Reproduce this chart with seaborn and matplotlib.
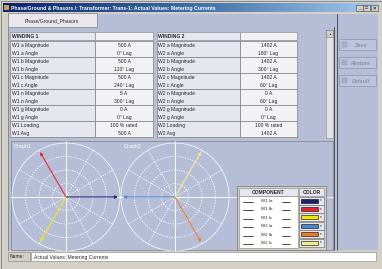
import matplotlib

matplotlib.use("Agg")

import matplotlib.pyplot as plt
import numpy as np
import seaborn as sns
from matplotlib.patches import Rectangle

# ---- data -----------------------------------------------------------------
title_text = "Phase/Ground & Phasors /: Transformer: Trans-1: Actual Values: Metering Currents"
tab_text = "Phase/Ground_Phasors"
status_label = "Name:"
status_text = "Actual Values: Metering Currents"
button_labels = ["Save", "Restore", "Default"]

w1_header = "WINDING 1"
w1_labels = ["W1 a Magnitude", "W1 a Angle", "W1 b Magnitude", "W1 b Angle",
             "W1 c Magnitude", "W1 c Angle", "W1 n Magnitude", "W1 n Angle",
             "W1 g Magnitude", "W1 g Angle", "W1 Loading", "W1 Avg"]
w1_values = ["500 A", "0° Lag", "500 A", "120° Lag", "500 A", "240° Lag",
             "5 A", "300° Lag", "0 A", "0° Lag", "100 % rated", "500 A"]

w2_header = "WINDING 2"
w2_labels = ["W2 a Magnitude", "W2 a Angle", "W2 b Magnitude", "W2 b Angle",
             "W2 c Magnitude", "W2 c Angle", "W2 n Magnitude", "W2 n Angle",
             "W2 g Magnitude", "W2 g Angle", "W2 Loading", "W2 Avg"]
w2_values = ["1402 A", "180° Lag", "1402 A", "300° Lag", "1402 A", "60° Lag",
             "0 A", "60° Lag", "0 A", "0° Lag", "100 % rated", "1402 A"]

component_names = ["W1 Ia", "W1 Ib", "W1 Ic", "W2 Ia", "W2 Ib", "W2 Ic"]
component_colors = ["#1c1f72", "#e8232b", "#f2e600", "#4a86c8", "#ea7a2c", "#f2ea84"]

graph_titles = ["Graph1", "Graph2"]
graph1_mag = [500, 500, 500]
graph1_ang = [0, 120, 240]
graph2_mag = [1402, 1402, 1402]
graph2_ang = [180, 300, 60]

# ---- style ----------------------------------------------------------------
sns.set_style("white")
plt.rcParams["font.family"] = ["Liberation Sans", "DejaVu Sans"]
palette = sns.color_palette(component_colors)

W, H = 382, 269
GRAY = "#d4d0c8"
PANEL = "#b6bed7"
FS = 3.6
VA = "center_baseline"

fig = plt.figure(figsize=(W / 100, H / 100), dpi=100)
fig.patch.set_facecolor(GRAY)
ax = fig.add_axes([0, 0, 1, 1])
ax.set_xlim(0, W)
ax.set_ylim(H, 0)
ax.axis("off")


def box(x0, y0, x1, y1, fc, ec="none", lw=0.5, z=1):
    ax.add_patch(Rectangle((x0, y0), x1 - x0, y1 - y0, facecolor=fc,
                           edgecolor=ec, linewidth=lw, zorder=z))


# window frame
box(0.5, 0.5, W - 0.5, H - 0.5, GRAY, "#808080", 0.6)

# title bar gradient
grad = np.linspace(0, 1, 256).reshape(1, -1)
ax.imshow(grad, extent=(3, 379, 12, 3), aspect="auto", zorder=2,
          cmap=matplotlib.colors.LinearSegmentedColormap.from_list(
              "tb", ["#0a246a", "#3a6ea5", "#a6caf0"]))
ax.text(11, 7.6, title_text, color="white", fontsize=3.7, fontweight="bold",
        va=VA, ha="left", zorder=3)
box(4, 4.5, 9, 10, "#c8a050", z=3)
for bx in [356, 363, 371]:
    box(bx, 4.5, bx + 7, 10.5, GRAY, "#404040", 0.4, z=3)
ax.text(359.5, 8, "_", fontsize=3.5, ha="center", va="center", zorder=4)
ax.text(366.5, 7.6, "□", fontsize=3.5, ha="center", va="center", zorder=4)
ax.text(374.5, 7.6, "×", fontsize=4.2, ha="center", va="center", zorder=4, fontweight="bold")

# tab row and panel backgrounds
box(8, 14, 378, 250, PANEL, z=1)
box(97, 14, 337, 27, PANEL, z=1)
box(8, 13, 97, 27, "#e8e8ec", "#808080", 0.5, z=2)
ax.text(52, 20.5, tab_text, fontsize=FS, ha="center", va=VA, zorder=3)
ax.plot([337, 337], [14, 250], color="#404040", lw=0.6, zorder=3)
ax.plot([333.5, 333.5], [27, 250], color="#404040", lw=0.6, zorder=3)
ax.plot([8, 8], [27, 250], color="#808080", lw=0.6, zorder=3)

# scrollbar
box(326, 30, 333, 138, "#e4e4e4", "#909090", 0.4, z=2)
box(326, 30, 333, 37, GRAY, "#707070", 0.4, z=3)
ax.text(329.5, 34, "▲", fontsize=2.2, ha="center", va="center", zorder=4)


def draw_table(x0, xm, x1, header, labels, values):
    y0, rh = 32, 8.0
    box(x0, y0, xm, y0 + 8, "#e6e6ee", "#808080", 0.4, z=2)
    box(xm, y0, x1, y0 + 8, "#f2f2f4", "#808080", 0.4, z=2)
    ax.text(x0 + 1.5, y0 + 4, header, fontsize=FS, fontweight="bold", va=VA, zorder=3)
    ystart = y0 + 9
    for k in range(0, len(labels), 2):
        yt = ystart + k * rh
        box(x0, yt, xm, yt + 2 * rh, "#e6e6ee", "#808080", 0.5, z=2)
        box(xm, yt, x1, yt + 2 * rh, "#f2f2f4", "#808080", 0.5, z=2)
    for i, (lab, val) in enumerate(zip(labels, values)):
        yc = ystart + i * rh + rh / 2
        ax.text(x0 + 1.5, yc, lab, fontsize=FS, va=VA, zorder=3)
        ax.text((xm + x1) / 2, yc, val, fontsize=FS, va=VA, ha="center", zorder=3)


draw_table(10, 95, 153, w1_header, w1_labels, w1_values)
draw_table(157, 240, 297, w2_header, w2_labels, w2_values)

# right buttons (disabled)
for i, lab in enumerate(button_labels):
    yb = 39 + i * 18
    box(339, yb, 376, yb + 11, "#bcc4dc", "#8c94ac", 0.5, z=2)
    box(342, yb + 3, 347, yb + 8, "#a8b0c8", "#8c94ac", 0.3, z=3)
    ax.text(361, yb + 5.6, lab, fontsize=3.9, color="#8890a8", style="italic",
            fontweight="bold", ha="center", va=VA, zorder=3)

# graph area
box(11, 141, 333, 250, PANEL, "#808080", 0.5, z=2)
ax.plot([11, 333], [197, 197], color="white", lw=0.6, zorder=3)
for cx in (66, 175):
    ax.plot([cx, cx], [141, 250], color="white", lw=0.6, zorder=3)
ax.text(14, 146, graph_titles[0], fontsize=3.8, color="white", va=VA, zorder=3)
ax.text(124, 146, graph_titles[1], fontsize=3.8, color="white", va=VA, zorder=3)

# polar phasor plots
R_PX = 54
for (cx, cy), mags, angs, cols in [((66, 197), graph1_mag, graph1_ang, palette[:3]),
                                   ((175, 197), graph2_mag, graph2_ang, palette[3:])]:
    pax = fig.add_axes([(cx - R_PX) / W, (H - cy - R_PX) / H, 2 * R_PX / W, 2 * R_PX / H],
                       projection="polar")
    pax.set_facecolor("none")
    rmax = max(mags) * 1.04
    pax.set_ylim(0, rmax)
    pax.set_yticks(np.array([0.25, 0.5, 0.75]) * rmax)
    pax.set_yticklabels([])
    pax.set_xticks(np.deg2rad(np.arange(0, 360, 30)))
    pax.set_xticklabels([])
    pax.grid(True, color="white", linestyle=(0, (1.5, 1.5)), linewidth=0.6)
    pax.spines["polar"].set_color("white")
    pax.spines["polar"].set_linestyle((0, (1.5, 1.5)))
    pax.spines["polar"].set_linewidth(0.6)
    for m, a, c in zip(mags, angs, cols):
        pax.annotate("", xy=(np.deg2rad(a), m), xytext=(0, 0),
                     arrowprops=dict(arrowstyle="-|>", color=c, lw=0.8,
                                     mutation_scale=4, shrinkA=0, shrinkB=0),
                     zorder=5)

# component / color legend table
lx0, lxm, lx1 = 239, 298, 324
box(237, 186, 326, 250, GRAY, "#808080", 0.6, z=4)
box(lx0, 188, lxm, 196, "#e6e6ee", "#808080", 0.4, z=5)
box(lxm + 1, 188, lx1, 196, "#e6e6ee", "#808080", 0.4, z=5)
ax.text((lx0 + lxm) / 2, 192, "COMPONENT", fontsize=FS, fontweight="bold",
        ha="center", va=VA, zorder=6)
ax.text((lxm + 1 + lx1) / 2, 192, "COLOR", fontsize=FS, fontweight="bold",
        ha="center", va=VA, zorder=6)
box(lx0, 196, lxm, 248, "white", "#808080", 0.4, z=5)
for i, (name, col) in enumerate(zip(component_names, palette)):
    yc = 200.5 + i * 8.4
    ax.text((lx0 + lxm) / 2 - 2, yc, name, fontsize=3.2, ha="center", va=VA, zorder=6)
    ax.plot([lx0 + 4, lx0 + 14], [yc + 1.5, yc + 1.5], color="black", lw=0.5, zorder=6)
    ax.plot([lxm - 16, lxm - 8], [yc + 1.5, yc + 1.5], color="black", lw=0.5, zorder=6)
    box(lxm + 1, yc - 4, lx1, yc + 4, "#e6e6ee", "#606060", 0.4, z=5)
    box(lxm + 2.5, yc - 2, lx1 - 6, yc + 2, col, "black", 0.4, z=6)
    ax.text(lx1 - 3, yc, "▾", fontsize=2.5, ha="center", va="center", zorder=6)

# status bar
box(8, 252, 30, 261, GRAY, "#808080", 0.4, z=2)
ax.text(10, 256.5, status_label, fontsize=FS, va=VA, zorder=3)
box(31, 252, 376, 261, "white", "#808080", 0.4, z=2)
ax.text(34, 256.5, status_text, fontsize=FS, va=VA, zorder=3)

fig.savefig("out.png", dpi=100, facecolor=fig.get_facecolor())
plt.close(fig)
